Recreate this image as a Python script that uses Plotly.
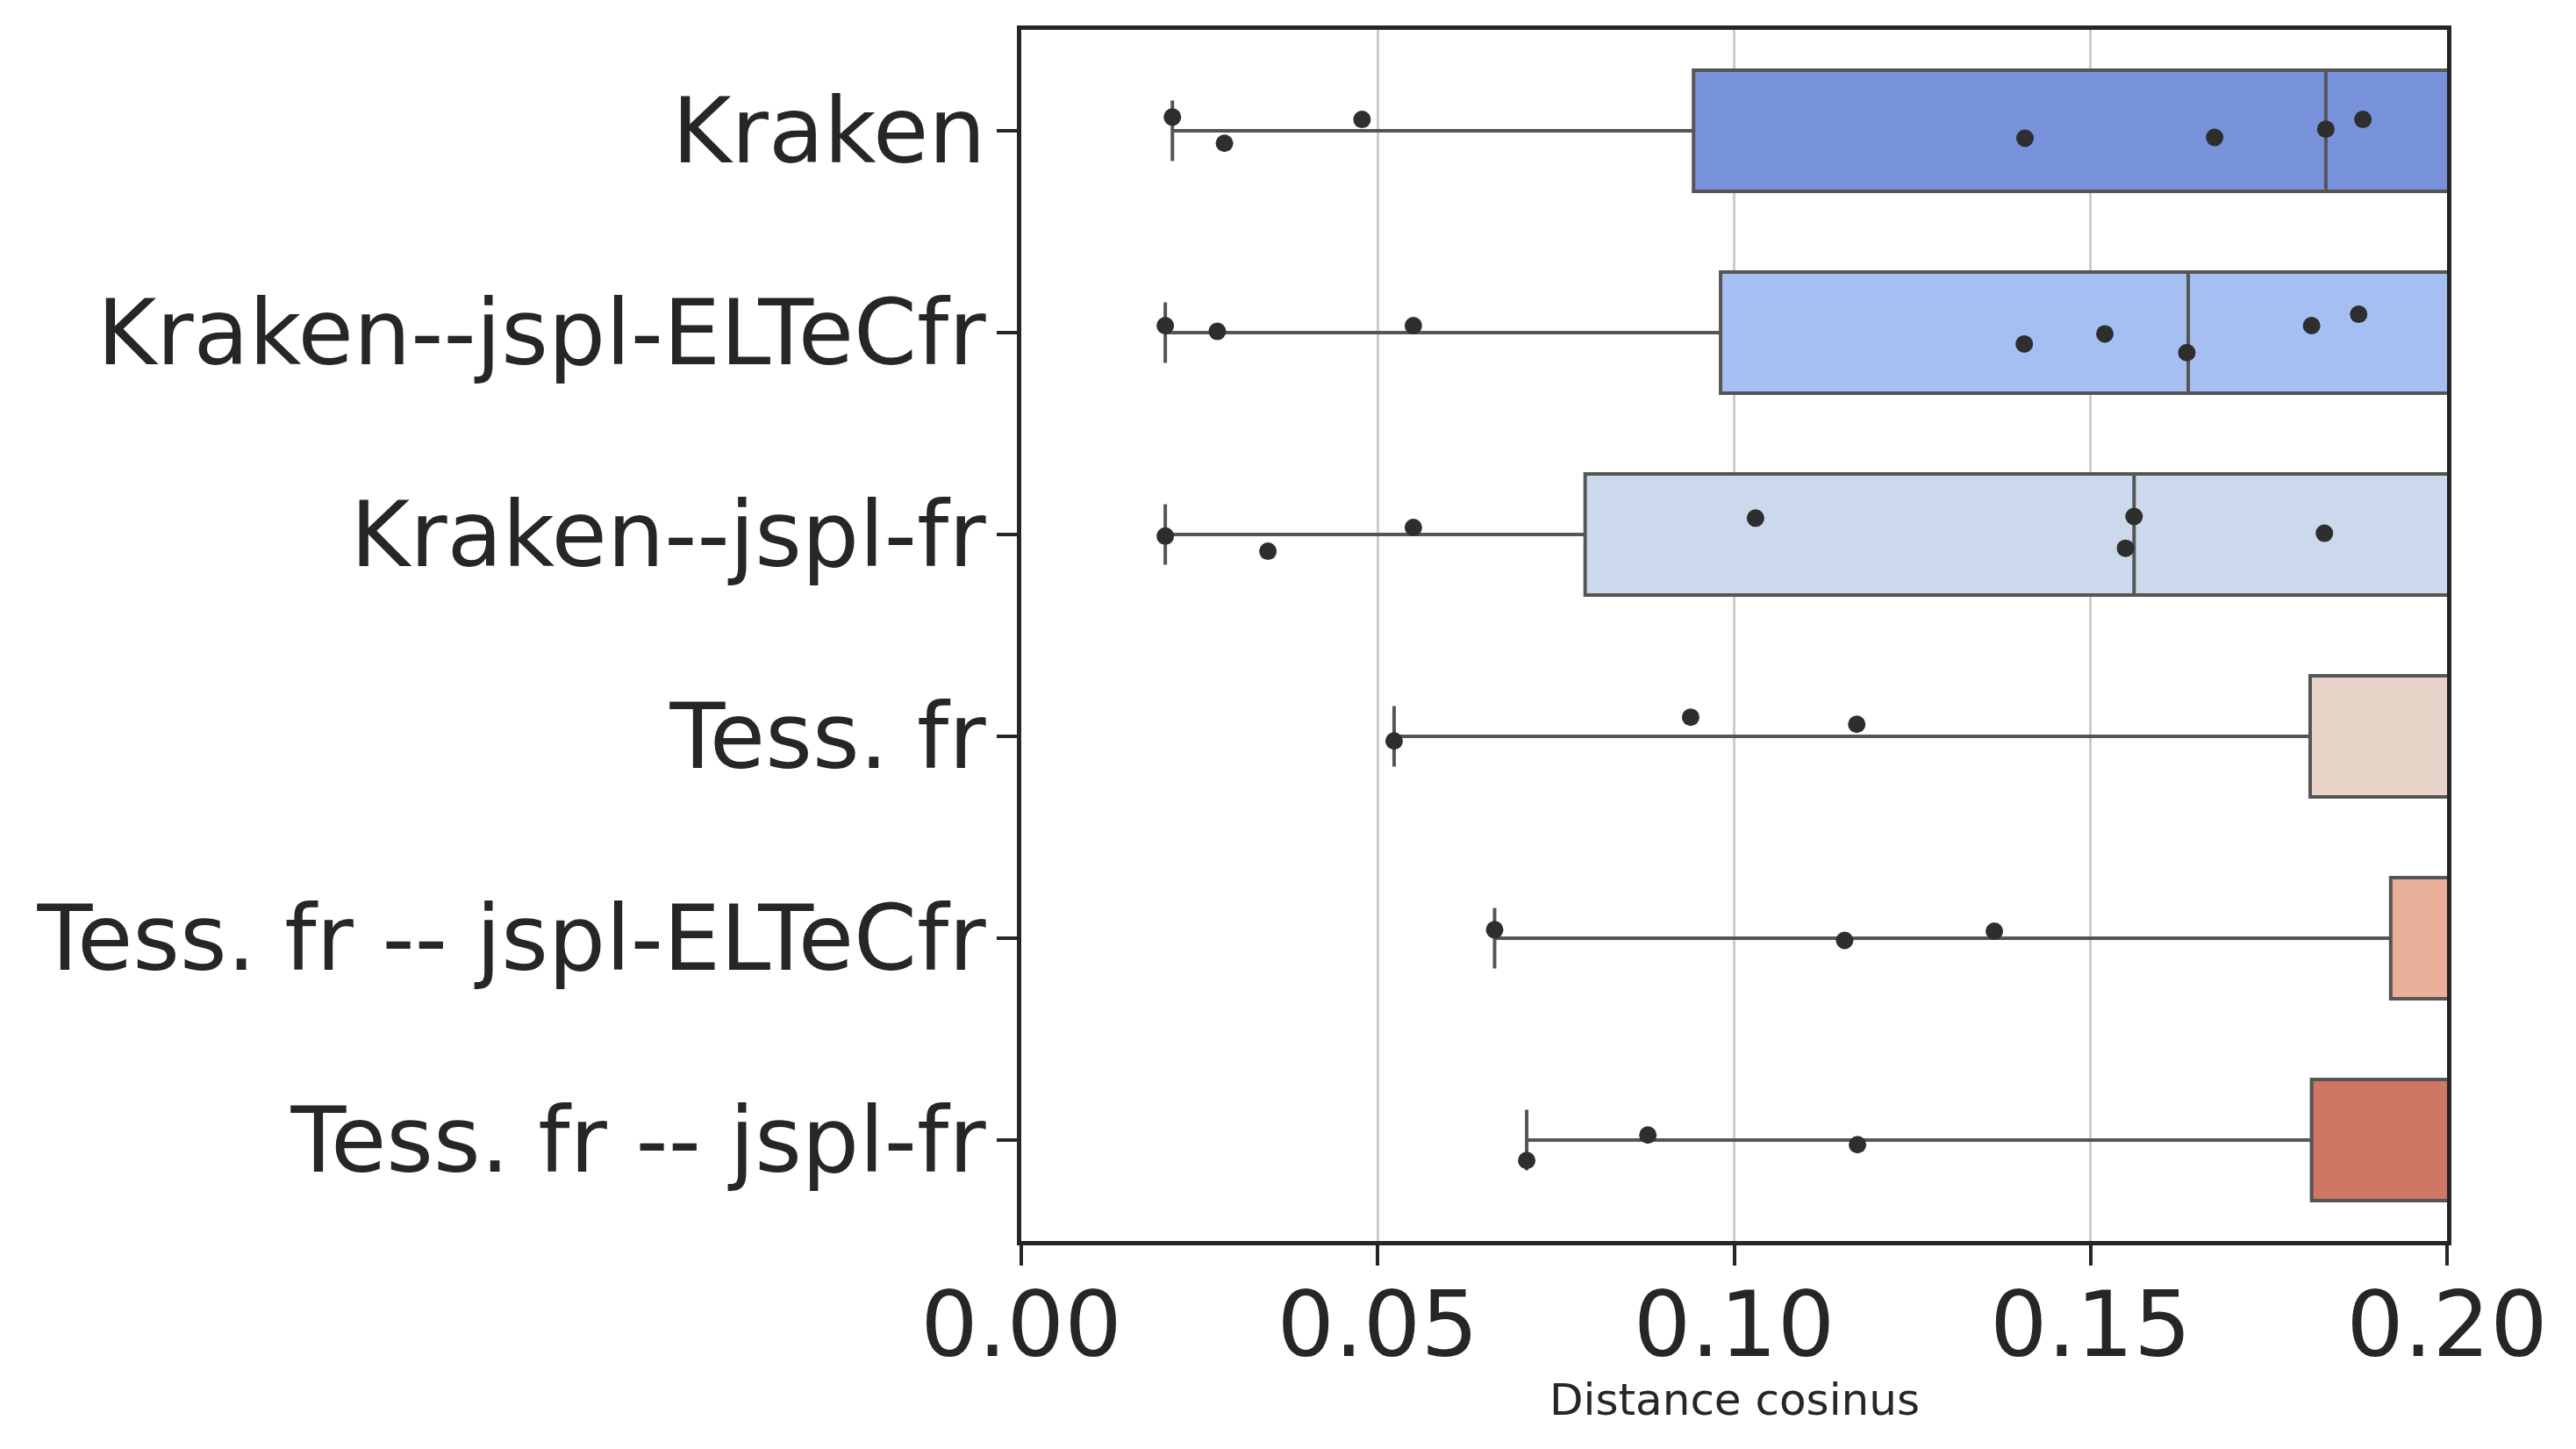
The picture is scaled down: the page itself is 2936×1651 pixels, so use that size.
import plotly.graph_objects as go

# data
categories = [
    "Kraken",
    "Kraken--jspl-ELTeCfr",
    "Kraken--jspl-fr",
    "Tess. fr",
    "Tess. fr -- jspl-ELTeCfr",
    "Tess. fr -- jspl-fr",
]
box_colors = ["#7892dc", "#a5bff2", "#ccd8ec", "#e7d3c8", "#e9af99", "#cf7665"]

# box statistics (q3 and upper fence lie beyond the 0.20 axis limit, estimated)
lower_fence = [0.0212, 0.0202, 0.0202, 0.0523, 0.0664, 0.0709]
q1 = [0.0943, 0.0981, 0.0791, 0.1808, 0.1921, 0.1810]
median = [0.1830, 0.1637, 0.1561, 0.2300, 0.2400, 0.2300]
q3 = [0.2600, 0.2500, 0.2500, 0.2900, 0.3000, 0.2900]
upper_fence = [0.3500, 0.3400, 0.3400, 0.3800, 0.3900, 0.3800]

# visible strip points (distance, jitter in category units)
points = {
    "Kraken": ([0.0212, 0.0285, 0.0478, 0.1408, 0.1674, 0.1830, 0.1882],
               [-0.068, 0.062, -0.056, 0.037, 0.033, -0.008, -0.056]),
    "Kraken--jspl-ELTeCfr": ([0.0202, 0.0275, 0.0550, 0.1407, 0.1520, 0.1635, 0.1810, 0.1876],
                             [-0.035, -0.006, -0.035, 0.056, 0.006, 0.099, -0.035, -0.091]),
    "Kraken--jspl-fr": ([0.0202, 0.0346, 0.0550, 0.1030, 0.1561, 0.1549, 0.1828],
                        [0.008, 0.083, -0.035, -0.081, -0.089, 0.068, -0.006]),
    "Tess. fr": ([0.0523, 0.0939, 0.1172],
                 [0.023, -0.095, -0.060]),
    "Tess. fr -- jspl-ELTeCfr": ([0.0664, 0.1155, 0.1365],
                                 [-0.042, 0.011, -0.035]),
    "Tess. fr -- jspl-fr": ([0.0709, 0.0879, 0.1173],
                            [0.101, -0.025, 0.023]),
}

x_ticks = [0.0, 0.05, 0.10, 0.15, 0.20]
x_tick_labels = ["0.00", "0.05", "0.10", "0.15", "0.20"]
x_title = "Distance cosinus"

FONT = "DejaVu Sans"
DARK = "#262626"
LINE = "#555555"

fig = go.Figure()

for i, name in enumerate(categories):
    fig.add_trace(go.Box(
        y=[i],
        q1=[q1[i]],
        median=[median[i]],
        q3=[q3[i]],
        lowerfence=[lower_fence[i]],
        upperfence=[upper_fence[i]],
        orientation="h",
        width=0.6,
        whiskerwidth=0.5,
        fillcolor=box_colors[i],
        line=dict(color=LINE, width=4),
        boxpoints=False,
        name=name,
        showlegend=False,
    ))

for i, name in enumerate(categories):
    xs, jit = points[name]
    fig.add_trace(go.Scatter(
        x=xs,
        y=[i + j for j in jit],
        mode="markers",
        marker=dict(color="#2e2e2e", size=20, line=dict(width=0)),
        showlegend=False,
    ))

fig.update_layout(
    width=2936,
    height=1651,
    margin=dict(l=1156, r=155, t=26, b=245, autoexpand=False),
    plot_bgcolor="white",
    paper_bgcolor="white",
    font=dict(family=FONT, color=DARK),
)

# x axis title placed as an annotation so it sits close to the tick labels
fig.add_annotation(
    text=x_title,
    xref="paper", yref="paper",
    x=0.5, y=-0.131,
    xanchor="center", yanchor="middle",
    showarrow=False,
    font=dict(size=50, family=FONT, color=DARK),
)

fig.update_xaxes(
    range=[0, 0.2],
    tickvals=x_ticks,
    ticktext=x_tick_labels,
    tickfont=dict(size=103, family=FONT, color=DARK),
    ticklabelstandoff=-20,
    showgrid=True,
    gridcolor="#cccccc",
    gridwidth=2.5,
    zeroline=False,
    showline=True,
    linecolor=DARK,
    linewidth=4.5,
    mirror=True,
    ticks="outside",
    ticklen=23,
    tickwidth=4,
    tickcolor=DARK,
)

fig.update_yaxes(
    range=[5.5, -0.5],
    tickvals=list(range(len(categories))),
    ticktext=categories,
    tickfont=dict(size=103, family=FONT, color=DARK),
    ticklabelstandoff=-8,
    showgrid=False,
    zeroline=False,
    showline=True,
    linecolor=DARK,
    linewidth=4.5,
    mirror=True,
    ticks="outside",
    ticklen=23,
    tickwidth=4,
    tickcolor=DARK,
)

fig.write_html("out.html")
